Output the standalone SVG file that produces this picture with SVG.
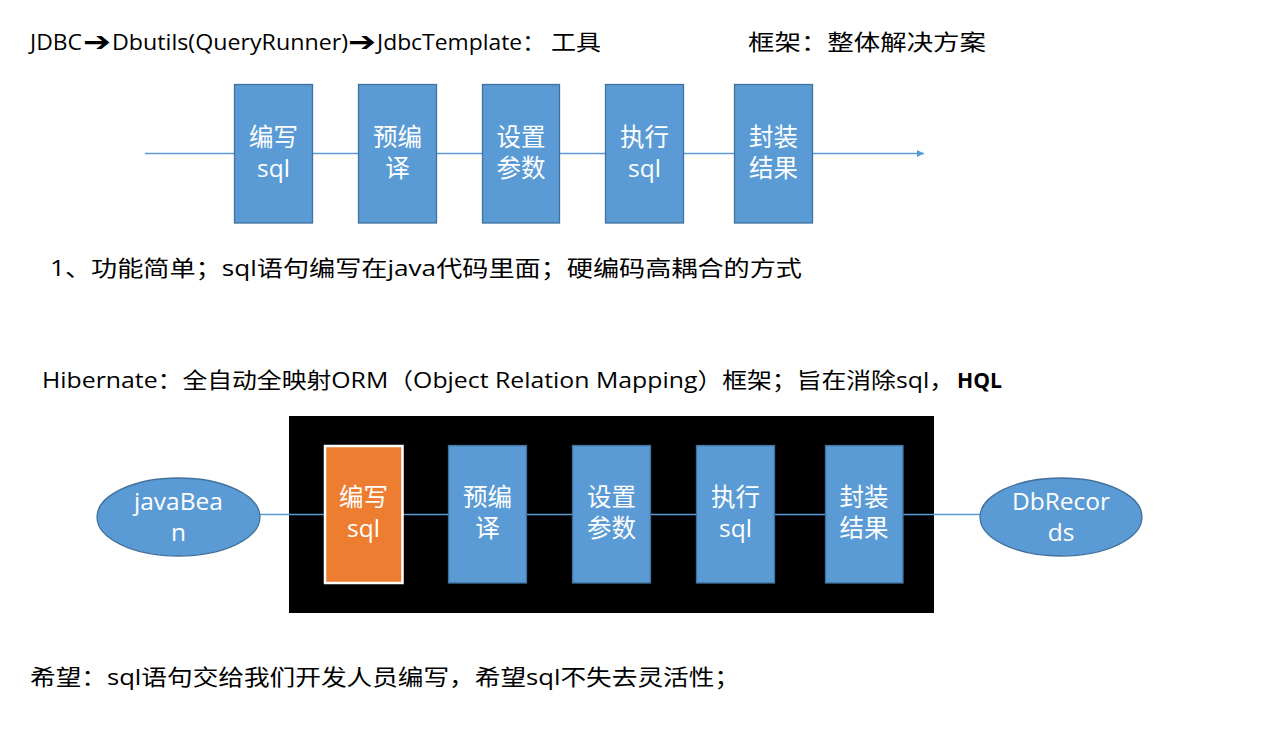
<svg xmlns="http://www.w3.org/2000/svg" width="1285" height="740" viewBox="0 0 1285 740">
<defs>
<style>
.t{font-family:"Open Sans","Noto Sans CJK SC",sans-serif;font-size:22px;fill:#000}
.ar{font-family:"DejaVu Sans",sans-serif;font-size:27px;font-weight:bold}
.b{fill:#5B9BD5;stroke:#41719C;stroke-width:1.3}
.o{fill:#ED7D31;stroke:#FFFFFF;stroke-width:2.5}
.w{font-family:"Open Sans","Noto Sans CJK SC",sans-serif;font-size:24.5px;fill:#fff;text-anchor:middle}
.c{stroke:#5B9BD5;stroke-width:1.3;fill:none}
</style>
<marker id="ah" viewBox="0 0 10 10" refX="10" refY="5" markerWidth="8" markerHeight="7" markerUnits="userSpaceOnUse" orient="auto"><path d="M0,0 L10,5 L0,10 Z" fill="#5B9BD5"/></marker>
</defs>
<rect width="1285" height="740" fill="#fff"/>
<g id="title">
<text class="t" y="50"><tspan x="30" textLength="52" lengthAdjust="spacingAndGlyphs">JDBC</tspan><tspan x="83" class="ar" y="51" textLength="28" lengthAdjust="spacingAndGlyphs">➔</tspan><tspan x="112" y="50" textLength="236" lengthAdjust="spacingAndGlyphs">Dbutils(QueryRunner)</tspan><tspan x="348" class="ar" y="51" textLength="28" lengthAdjust="spacingAndGlyphs">➔</tspan><tspan x="377" y="50" textLength="168" lengthAdjust="spacingAndGlyphs">JdbcTemplate：</tspan><tspan x="551" textLength="50" lengthAdjust="spacingAndGlyphs">工具</tspan></text>
<text class="t" x="748" y="50" textLength="238" lengthAdjust="spacingAndGlyphs">框架：整体解决方案</text>
</g>
<g id="connectors">
<line class="c" x1="145" y1="153.5" x2="924" y2="153.5" marker-end="url(#ah)"/>
</g>
<g id="top-1"><rect class="b" x="234.5" y="84.5" width="78" height="138.5"/><text class="w" x="273.5" y="146">编写</text><text class="w" x="273.5" y="177">sql</text></g>
<g id="top-2"><rect class="b" x="358.5" y="84.5" width="78" height="138.5"/><text class="w" x="397.5" y="146">预编</text><text class="w" x="397.5" y="177">译</text></g>
<g id="top-3"><rect class="b" x="482.5" y="84.5" width="77" height="138.5"/><text class="w" x="521" y="146">设置</text><text class="w" x="521" y="177">参数</text></g>
<g id="top-4"><rect class="b" x="605.5" y="84.5" width="78" height="138.5"/><text class="w" x="644.5" y="146">执行</text><text class="w" x="644.5" y="177">sql</text></g>
<g id="top-5"><rect class="b" x="734.5" y="84.5" width="78" height="138.5"/><text class="w" x="773.5" y="146">封装</text><text class="w" x="773.5" y="177">结果</text></g>
<g id="note1"><text class="t" x="50" y="276" textLength="752" lengthAdjust="spacingAndGlyphs">1、功能简单；sql语句编写在java代码里面；硬编码高耦合的方式</text></g>
<g id="hibernate"><text class="t" y="388"><tspan x="42" textLength="912" lengthAdjust="spacingAndGlyphs">Hibernate：全自动全映射ORM（Object Relation Mapping）框架；旨在消除sql，</tspan><tspan x="957" font-weight="bold" textLength="45" lengthAdjust="spacingAndGlyphs">HQL</tspan></text></g>
<g id="frame"><rect x="289" y="416" width="645" height="197" fill="#000"/></g>
<g id="connectors-bottom">
<line class="c" x1="260" y1="514.5" x2="980" y2="514.5"/>
</g>
<g id="javaBean"><ellipse class="b" cx="178.5" cy="517" rx="81.5" ry="39"/><text class="w" x="178.5" y="510">javaBea</text><text class="w" x="178.5" y="541">n</text></g>
<g id="bot-1"><rect class="o" x="325" y="446" width="77.5" height="137"/><text class="w" x="363.5" y="506">编写</text><text class="w" x="363.5" y="537">sql</text></g>
<g id="bot-2"><rect class="b" x="448.5" y="445.5" width="78" height="137.5"/><text class="w" x="487.5" y="506">预编</text><text class="w" x="487.5" y="537">译</text></g>
<g id="bot-3"><rect class="b" x="572.5" y="445.5" width="78" height="137.5"/><text class="w" x="611.5" y="506">设置</text><text class="w" x="611.5" y="537">参数</text></g>
<g id="bot-4"><rect class="b" x="696.5" y="445.5" width="78" height="137.5"/><text class="w" x="735.5" y="506">执行</text><text class="w" x="735.5" y="537">sql</text></g>
<g id="bot-5"><rect class="b" x="825.5" y="445.5" width="77.5" height="137.5"/><text class="w" x="864" y="506">封装</text><text class="w" x="864" y="537">结果</text></g>
<g id="DbRecords"><ellipse class="b" cx="1061" cy="517" rx="81" ry="39"/><text class="w" x="1061" y="510">DbRecor</text><text class="w" x="1061" y="541">ds</text></g>
<g id="note2"><text class="t" x="30" y="685" textLength="710" lengthAdjust="spacingAndGlyphs">希望：sql语句交给我们开发人员编写，希望sql不失去灵活性；</text></g>
</svg>
